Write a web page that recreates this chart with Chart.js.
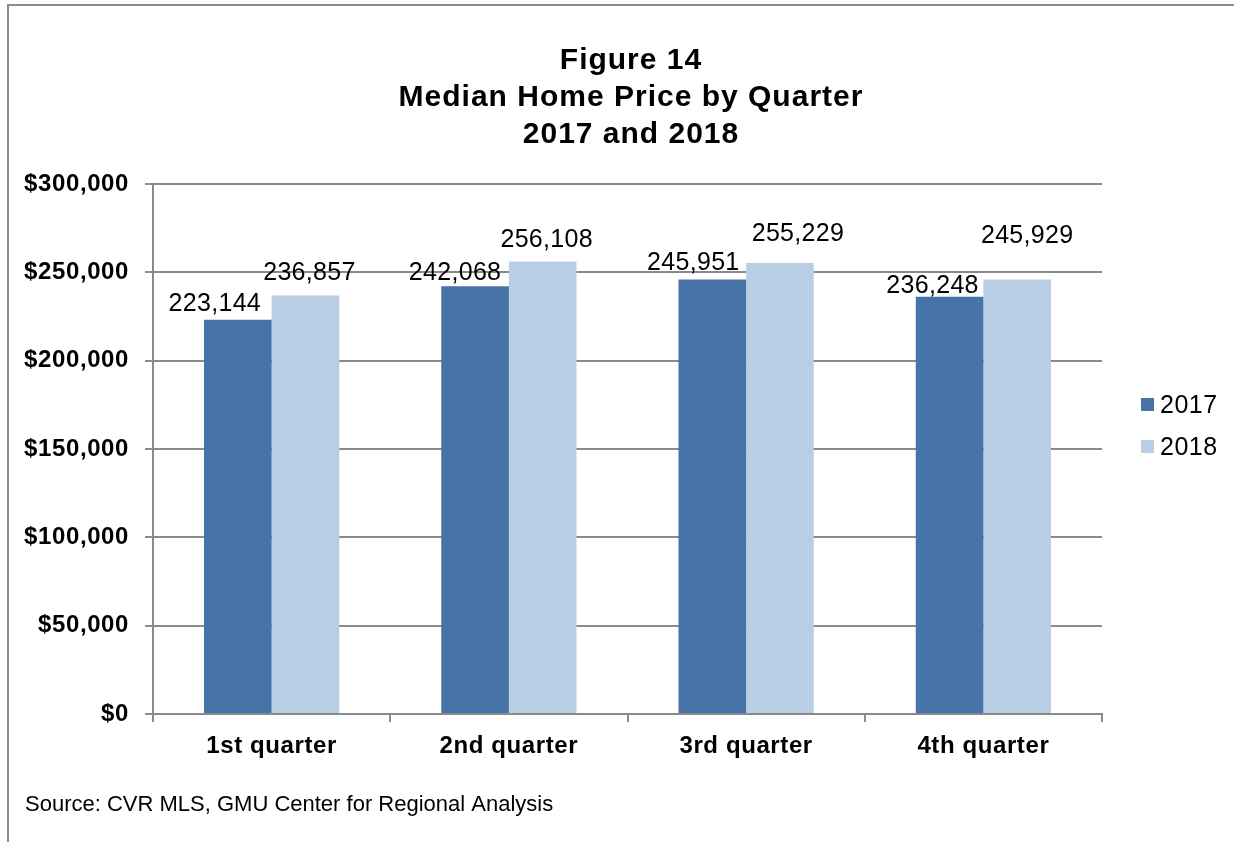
<!DOCTYPE html>
<html>
<head>
<meta charset="utf-8">
<script src="https://cdn.jsdelivr.net/npm/chart.js@4/dist/chart.umd.min.js"></script>
<style>
  html, body { margin: 0; padding: 0; background: #fff; overflow: hidden; width: 1234px; height: 842px; }
  #frame { position: absolute; left: 7px; top: 4px; width: 1400px; height: 1000px; border-left: 2px solid #8c8c8c; border-top: 2px solid #8c8c8c; }
  #c { position: absolute; left: 0; top: 0; }
</style>
</head>
<body>
<div id="frame"></div>
<canvas id="c" width="1234" height="842"></canvas>
<script>
// ---- data ----
const categories = ['1st quarter', '2nd quarter', '3rd quarter', '4th quarter'];
const seriesNames = ['2017', '2018'];
const values2017 = [223144, 242068, 245951, 236248];
const values2018 = [236857, 256108, 255229, 245929];
const yTicks = [0, 50000, 100000, 150000, 200000, 250000, 300000];
const titleLines = ['Figure 14', 'Median Home Price by Quarter', '2017 and 2018'];
const sourceText = 'Source: CVR MLS, GMU Center for Regional Analysis';

// ---- styling ----
const colors = ['#4673A8', '#B9CDE5'];
const gridColor = '#8a8a8a';
const FONT = "'Liberation Sans', Arial, sans-serif";
// label nudges (dx, dy from bar top) per series, per category
const labelNudge = [
  [[-23, -9], [-20, -6], [-19, -9], [-17, -4]],
  [[4, -16], [4, -15], [18, -22], [10, -37]]
];

Chart.defaults.font.family = FONT;
Chart.defaults.color = '#000';

const fmt = v => v.toLocaleString('en-US');

const decor = {
  id: 'decor',
  beforeDraw(chart) {
    chart.ctx.letterSpacing = '0.6px';
  },
  afterDatasetsDraw(chart) {
    const ctx = chart.ctx;
    ctx.save();
    ctx.letterSpacing = '0.3px';
    ctx.font = '25px ' + FONT;
    ctx.fillStyle = '#000';
    ctx.textAlign = 'center';
    ctx.textBaseline = 'alphabetic';
    chart.data.datasets.forEach((ds, di) => {
      const meta = chart.getDatasetMeta(di);
      meta.data.forEach((bar, i) => {
        const n = labelNudge[di][i];
        ctx.fillText(fmt(ds.data[i]), bar.x + n[0], bar.y + n[1]);
      });
    });
    ctx.restore();
  },
  afterDraw(chart) {
    const ctx = chart.ctx;
    ctx.save();
    // title
    ctx.fillStyle = '#000';
    ctx.textAlign = 'center';
    ctx.textBaseline = 'alphabetic';
    ctx.letterSpacing = '1px';
    ctx.font = 'bold 30px ' + FONT;
    titleLines.forEach((t, i) => ctx.fillText(t, 631, 69 + i * 37));
    // legend
    ctx.textAlign = 'left';
    ctx.letterSpacing = '0.5px';
    ctx.font = '25px ' + FONT;
    chart.data.datasets.forEach((ds, i) => {
      const y = 398 + i * 42;
      ctx.fillStyle = ds.backgroundColor;
      ctx.fillRect(1141, y, 13, 13);
      ctx.fillStyle = '#000';
      ctx.fillText(ds.label, 1160, y + 15);
    });
    // source
    ctx.letterSpacing = '0px';
    ctx.font = '22px ' + FONT;
    ctx.fillText(sourceText, 25, 811);
    ctx.restore();
  }
};

new Chart(document.getElementById('c'), {
  type: 'bar',
  data: {
    labels: categories,
    datasets: [
      { label: seriesNames[0], data: values2017, backgroundColor: colors[0], borderWidth: 0 },
      { label: seriesNames[1], data: values2018, backgroundColor: colors[1], borderWidth: 0 }
    ]
  },
  options: {
    responsive: false,
    animation: false,
    devicePixelRatio: 1,
    layout: { padding: { left: 0, top: 184, right: 132, bottom: 68 } },
    plugins: { legend: { display: false }, title: { display: false }, tooltip: { enabled: false } },
    datasets: { bar: { categoryPercentage: 0.57, barPercentage: 1.0 } },
    scales: {
      x: {
        offset: true,
        grid: { display: true, offset: true, drawOnChartArea: false, drawTicks: true, tickLength: 8, color: gridColor, lineWidth: 2 },
        border: { display: true, color: gridColor, width: 2 },
        ticks: { font: { size: 24, weight: 'bold' }, color: '#000', padding: 10, maxRotation: 0 },
        afterFit(s) { s.height = 60; }
      },
      y: {
        min: 0, max: 300000,
        afterBuildTicks(s) { s.ticks = yTicks.map(v => ({ value: v })); },
        grid: { color: gridColor, lineWidth: 2, drawTicks: true, tickLength: 8, tickColor: gridColor },
        border: { display: true, color: gridColor, width: 2 },
        ticks: { font: { size: 24, weight: 'bold' }, color: '#000', padding: 16, callback: v => '$' + fmt(v) },
        afterFit(s) { s.width = 153; }
      }
    }
  },
  plugins: [decor]
});
</script>
</body>
</html>
